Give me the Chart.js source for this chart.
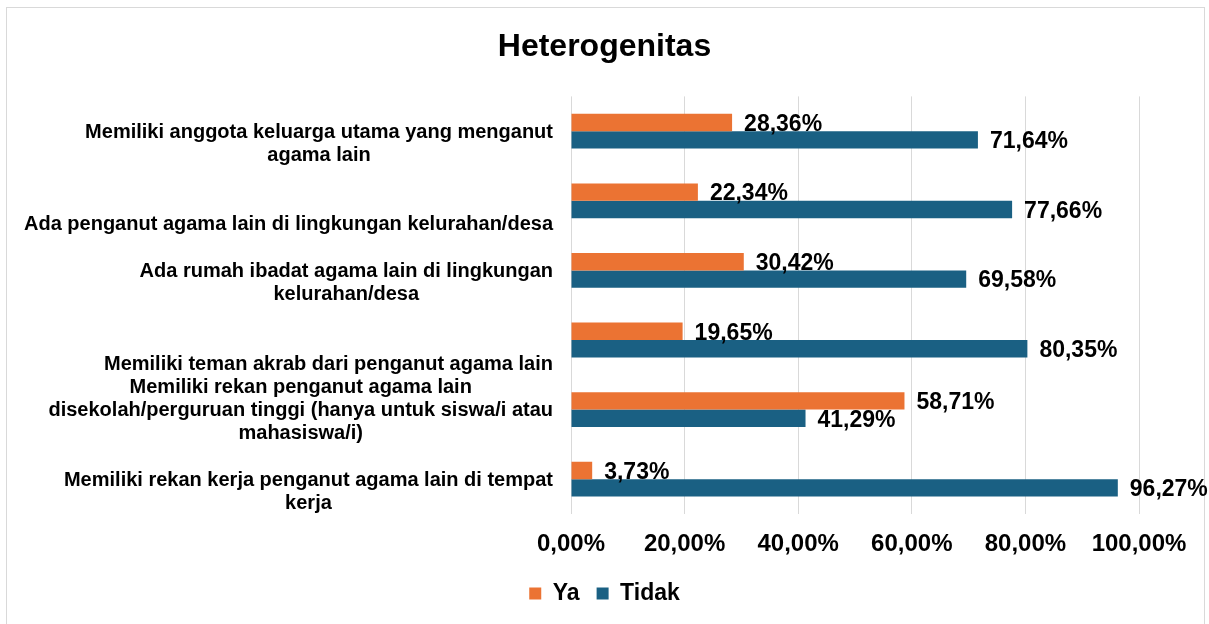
<!DOCTYPE html>
<html>
<head>
<meta charset="utf-8">
<script src="https://cdn.jsdelivr.net/npm/chart.js@4.4.1/dist/chart.umd.min.js"></script>
<style>
  body { margin: 0; background: #fff; overflow: hidden; }
  #wrap { position: relative; width: 1209px; height: 624px; }
  #frame { position: absolute; left: 6px; top: 7px; width: 1197px; height: 700px; border: 1px solid #d9d9d9; }
  canvas { position: absolute; left: 0; top: 0; }
</style>
</head>
<body>
<div id="wrap">
  <div id="frame"></div>
  <canvas id="myChart" width="1209" height="624"></canvas>
</div>
<script>
// category labels, already broken into lines like the original
var categories = [
  ["Memiliki anggota keluarga utama yang menganut", "agama lain"],
  ["Ada penganut agama lain di lingkungan kelurahan/desa"],
  ["Ada rumah ibadat agama lain di lingkungan", "kelurahan/desa"],
  ["Memiliki teman akrab dari penganut agama lain"],
  ["Memiliki rekan penganut agama lain", "disekolah/perguruan tinggi (hanya untuk siswa/i atau", "mahasiswa/i)"],
  ["Memiliki rekan kerja penganut agama lain di tempat", "kerja"]
]
var yaValues = [28.36, 22.34, 30.42, 19.65, 58.71, 3.73]
var tidakValues = [71.64, 77.66, 69.58, 80.35, 41.29, 96.27]
var xTicks = [0, 20, 40, 60, 80, 100]

var FONT = "'Liberation Sans', Arial, sans-serif"

function pct(v) {
  return v.toFixed(2).replace('.', ',') + '%'
}

// draws the value at the end of every bar
var barLabels = {
  id: 'barLabels',
  afterDatasetsDraw: function (chart) {
    var ctx = chart.ctx
    ctx.save()
    ctx.font = 'bold 23px ' + FONT
    ctx.fillStyle = '#000'
    ctx.textAlign = 'left'
    ctx.textBaseline = 'middle'
    chart.data.datasets.forEach(function (ds, di) {
      chart.getDatasetMeta(di).data.forEach(function (bar, i) {
        ctx.fillText(pct(ds.data[i]), bar.x + 12, bar.y + 2)
      })
    })
    ctx.restore()
  }
}

// category labels: lines centred in their block, block right aligned,
// last line sits a bit below the category centre (like Excel did it)
var catLabels = {
  id: 'catLabels',
  afterDraw: function (chart) {
    var ctx = chart.ctx
    var yScale = chart.scales.y
    var right = chart.chartArea.left - 18
    var lineH = 23
    ctx.save()
    ctx.font = 'bold 20px ' + FONT
    ctx.fillStyle = '#000'
    ctx.textAlign = 'center'
    ctx.textBaseline = 'middle'
    categories.forEach(function (lines, i) {
      var yc = yScale.getPixelForTick(i)
      var w = 0
      lines.forEach(function (l) { w = Math.max(w, ctx.measureText(l).width) })
      var cx = right - w / 2
      var last = yc + 24
      lines.forEach(function (l, k) {
        ctx.fillText(l, cx, last - (lines.length - 1 - k) * lineH)
      })
    })
    ctx.restore()
  }
}

window.addEventListener('load', function () {
  var ctx = document.getElementById('myChart').getContext('2d')
  new Chart(ctx, {
    type: 'bar',
    data: {
      labels: categories,
      datasets: [
        { label: 'Ya', data: yaValues, backgroundColor: '#EB7333', borderWidth: 0 },
        { label: 'Tidak', data: tidakValues, backgroundColor: '#1A6083', borderWidth: 0 }
      ]
    },
    options: {
      indexAxis: 'y',
      responsive: false,
      animation: false,
      layout: { padding: { left: 0, right: 0, top: 0, bottom: 9 } },
      datasets: { bar: { categoryPercentage: 0.5, barPercentage: 1 } },
      plugins: {
        title: {
          display: true,
          text: 'Heterogenitas',
          color: '#000',
          font: { family: FONT, size: 32, weight: 'bold' },
          padding: { top: 28, bottom: 30 }
        },
        legend: {
          position: 'bottom',
          labels: {
            color: '#000',
            font: { family: FONT, size: 23, weight: 'bold' },
            boxWidth: 12,
            boxHeight: 12,
            padding: 17
          }
        },
        tooltip: { enabled: false }
      },
      scales: {
        x: {
          min: 0,
          max: 100,
          afterBuildTicks: function (scale) {
            scale.ticks = xTicks.map(function (v) { return { value: v } })
          },
          afterFit: function (scale) { scale.height = 51 },
          grid: { color: '#d9d9d9', drawTicks: false },
          border: { display: false },
          ticks: {
            color: '#000',
            padding: 16,
            font: { family: FONT, size: 24, weight: 'bold' },
            callback: function (v) { return pct(v) }
          }
        },
        y: {
          grid: { display: false },
          border: { display: false },
          ticks: { display: false },
          afterFit: function (scale) { scale.width = 571 }
        },
        // empty strip on the right so the plot ends where the original does
        yRight: {
          type: 'category',
          position: 'right',
          grid: { display: false },
          border: { display: false },
          ticks: { display: false },
          afterFit: function (scale) { scale.width = 70 }
        }
      }
    },
    plugins: [barLabels, catLabels]
  })
})
</script>
</body>
</html>
